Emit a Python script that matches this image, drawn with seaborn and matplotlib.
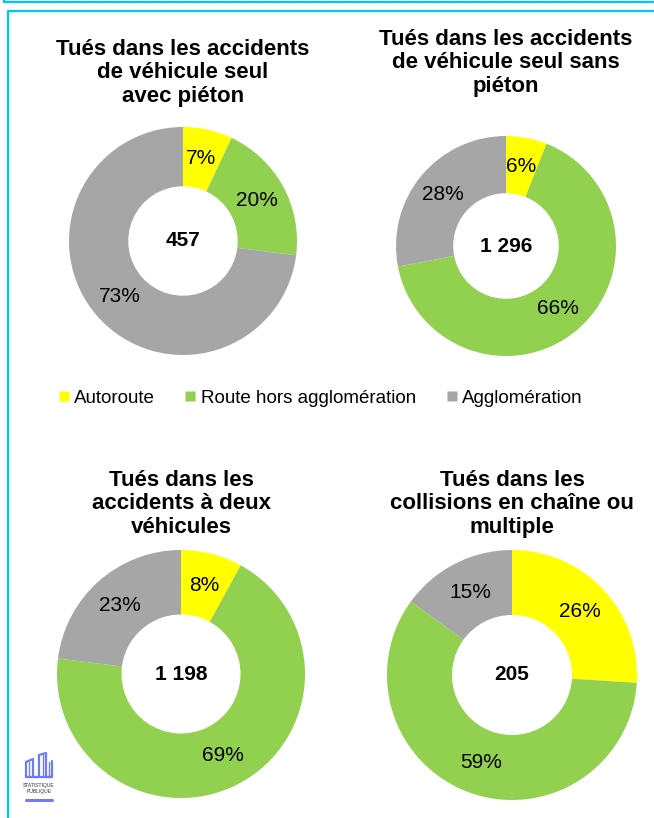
import matplotlib
matplotlib.use("Agg")
import matplotlib.pyplot as plt
from matplotlib.lines import Line2D
import seaborn as sns

sns.set_theme(style="white")
plt.rcParams['font.family'] = ['Liberation Sans', 'DejaVu Sans']
plt.rcParams['text.color'] = 'black'

# Data
categories = ['Autoroute', 'Route hors agglomération', 'Agglomération']
colors = ['#FFFF00', '#92D050', '#A6A6A6']
titles = [
    'Tués dans les accidents\nde véhicule seul\navec piéton',
    'Tués dans les accidents\nde véhicule seul sans\npiéton',
    'Tués dans les\naccidents à deux\nvéhicules',
    'Tués dans les\ncollisions en chaîne ou\nmultiple',
]
totals = ['457', '1 296', '1 198', '205']
shares_pieton = [7, 20, 73]
shares_sans_pieton = [6, 66, 28]
shares_deux_vehicules = [8, 69, 23]
shares_multiple = [26, 59, 15]
all_shares = [shares_pieton, shares_sans_pieton, shares_deux_vehicules, shares_multiple]

W, H = 654, 818
fig = plt.figure(figsize=(W / 100, H / 100), dpi=100)
fig.patch.set_facecolor('white')

# layout in pixels: donut centre x, centre y, outer radius, title middle-line y
layout = [
    (183, 241, 114, 73),
    (506, 246, 110, 63),
    (181, 674, 124, 504),
    (512, 675, 125, 504),
]

for shares, title, total, (cx, cy, r, ty) in zip(all_shares, titles, totals, layout):
    ax = fig.add_axes([(cx - r) / W, (H - cy - r) / H, 2 * r / W, 2 * r / H])
    ax.pie(shares, colors=colors, startangle=90, counterclock=False,
           wedgeprops=dict(width=0.52, edgecolor='none'),
           autopct=lambda p: f'{p:.0f}%', pctdistance=0.74,
           textprops=dict(fontsize=15, color='black'))
    ax.set_xlim(-1, 1)
    ax.set_ylim(-1, 1)
    ax.set_aspect('equal')
    ax.axis('off')
    ax.text(0, 0, total, ha='center', va='center', fontsize=15, fontweight='bold',
            color='black')
    fig.text(cx / W, 1 - ty / H, title, ha='center', va='center', fontsize=16,
             fontweight='bold', linespacing=1.13, color='black')

# Legend
handles = [Line2D([0], [0], marker='s', linestyle='none', markersize=6.5,
                  markerfacecolor=c, markeredgecolor='none') for c in colors]
fig.legend(handles, categories, loc='center left', bbox_to_anchor=(58 / W, 1 - 398 / H),
           ncol=3, frameon=False, fontsize=13.5, handletextpad=0.25, columnspacing=1.6,
           handlelength=0.6, borderpad=0, borderaxespad=0, labelcolor='black')

# Frame
cyan = '#00C8F5'
fig.add_artist(Line2D([4 / W, 1], [1 - 1.5 / H, 1 - 1.5 / H], color=cyan, lw=1.6))
fig.add_artist(Line2D([4 / W, 4 / W], [1, 1 - 1.5 / H], color=cyan, lw=1.6))
fig.add_artist(Line2D([7.5 / W, 1], [1 - 10.5 / H, 1 - 10.5 / H], color=cyan, lw=1.6))
fig.add_artist(Line2D([7.5 / W, 7.5 / W], [0, 1 - 10.5 / H], color=cyan, lw=1.6))

# Small logo (pixel coords x 22..56, y 750..802)
blue = '#6E7CF2'
lx = fig.add_axes([22 / W, (H - 802) / H, 34 / W, 52 / H])
lx.set_xlim(0, 34)
lx.set_ylim(0, 52)
lx.axis('off')
lx.plot([4, 4, 11, 11, 17, 17, 24, 24, 30, 30],
        [25, 40, 43, 25, 25, 47, 49, 25, 25, 41], color=blue, lw=1.6)
lx.plot([4, 30], [25, 25], color=blue, lw=1.6)
lx.plot([7.5, 7.5], [25, 40.5], color=blue, lw=1.0)
lx.plot([20.5, 20.5], [25, 47.5], color=blue, lw=1.0)
lx.plot([27, 27], [25, 40.5], color=blue, lw=1.0)
lx.text(17, 16.5, 'STATISTIQUE', ha='center', va='center', fontsize=3.6, color='#333333')
lx.text(17, 10.5, 'PUBLIQUE', ha='center', va='center', fontsize=3.6, color='#333333')
lx.plot([4, 30], [2.5, 2.5], color=blue, lw=2.2)

fig.savefig('out.png', dpi=100, facecolor='white')
